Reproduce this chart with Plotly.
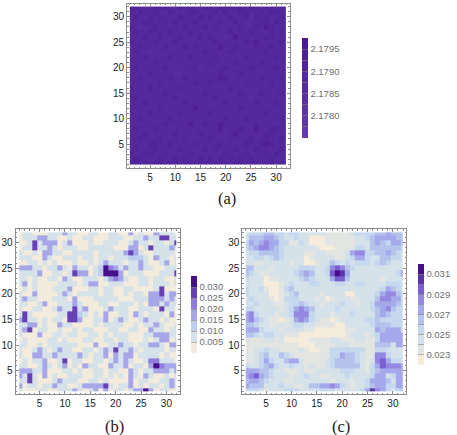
"""Three 32x32 density maps (a), (b), (c) with stepped colour bars."""

import plotly.graph_objects as go

WIDTH, HEIGHT = 457, 435

# values are listed top row (y=32) first, columns x=1..32
# panel (a): value = 2.178 + v * 1e-4
a_rows = [
    [11, 11, 9, 9, 9, 11, 11, 11, 9, 9, 11, 9, 11, 9, 9, 11, 11, 9, 11, 11, 11, 11, 11, 9, 11, 11, 9, 11, 11, 9, 11, 11],
    [11, 9, 11, 9, 9, 11, 9, 9, 11, 9, 9, 9, 11, 11, 9, 9, 9, 11, 9, 11, 9, 9, 11, 11, 9, 9, 11, 9, 11, 11, 9, 9],
    [9, 11, 9, 9, 11, 9, 11, 9, 9, 9, 11, 9, 9, 9, 11, 9, 11, 9, 9, 9, 11, 9, 9, 11, 7, 11, 9, 11, 9, 9, 11, 9],
    [9, 9, 9, 11, 11, 9, 9, 11, 9, 11, 9, 9, 9, 11, 9, 9, 9, 9, 11, 9, 9, 11, 9, 7, 9, 9, 11, 11, 9, 11, 9, 11],
    [11, 9, 7, 9, 9, 11, 9, 9, 9, 9, 9, 11, 9, 9, 9, 11, 9, 11, 9, 9, 9, 9, 11, 9, 9, 11, 9, 14, 11, 9, 9, 9],
    [9, 11, 9, 9, 11, 9, 9, 9, 11, 9, 9, 9, 11, 9, 9, 9, 9, 9, 9, 9, 11, 9, 9, 9, 11, 9, 9, 9, 11, 9, 11, 9],
    [9, 9, 9, 11, 9, 9, 11, 9, 9, 9, 11, 9, 9, 9, 11, 9, 11, 9, 9, 7, 9, 14, 9, 9, 9, 9, 9, 11, 11, 9, 9, 11],
    [11, 9, 9, 9, 9, 11, 9, 9, 9, 11, 9, 9, 9, 9, 9, 9, 9, 11, 9, 9, 9, 9, 9, 11, 9, 14, 9, 9, 9, 9, 11, 9],
    [9, 9, 11, 9, 9, 9, 9, 11, 9, 9, 9, 11, 9, 11, 9, 9, 9, 9, 14, 9, 9, 11, 9, 9, 9, 11, 9, 9, 11, 9, 9, 9],
    [9, 11, 9, 9, 7, 9, 9, 9, 9, 9, 9, 9, 9, 9, 9, 11, 9, 9, 9, 9, 11, 9, 9, 9, 9, 9, 9, 11, 9, 9, 9, 11],
    [9, 9, 9, 11, 9, 9, 9, 9, 11, 9, 9, 9, 11, 9, 9, 9, 9, 11, 9, 9, 9, 9, 9, 11, 9, 9, 9, 9, 9, 11, 9, 9],
    [9, 9, 9, 9, 9, 11, 9, 9, 9, 9, 9, 9, 9, 9, 9, 9, 11, 9, 9, 9, 9, 11, 9, 9, 9, 9, 11, 9, 9, 9, 9, 9],
    [9, 11, 9, 9, 9, 9, 9, 11, 9, 9, 9, 9, 9, 11, 7, 9, 9, 9, 9, 11, 9, 9, 9, 9, 11, 9, 9, 9, 9, 11, 9, 9],
    [9, 9, 9, 9, 11, 9, 9, 9, 9, 7, 7, 9, 9, 9, 9, 9, 9, 9, 11, 9, 9, 9, 11, 9, 9, 9, 9, 9, 9, 9, 9, 11],
    [9, 9, 11, 9, 9, 9, 9, 9, 11, 9, 9, 11, 9, 9, 9, 9, 9, 9, 14, 11, 9, 9, 9, 9, 9, 9, 11, 9, 9, 9, 11, 9],
    [9, 9, 9, 9, 9, 9, 11, 9, 9, 9, 9, 9, 9, 11, 9, 9, 11, 9, 9, 9, 9, 9, 9, 11, 9, 9, 9, 9, 11, 9, 9, 9],
    [11, 9, 9, 9, 11, 9, 9, 9, 9, 9, 11, 9, 9, 9, 9, 9, 9, 9, 9, 9, 11, 9, 9, 9, 9, 9, 9, 9, 9, 9, 9, 9],
    [9, 9, 9, 9, 9, 9, 9, 11, 9, 9, 9, 9, 9, 9, 9, 11, 9, 9, 9, 9, 9, 9, 11, 9, 9, 9, 11, 9, 9, 9, 11, 9],
    [9, 11, 9, 9, 9, 9, 9, 9, 9, 11, 9, 9, 9, 9, 9, 9, 9, 11, 9, 9, 9, 9, 9, 9, 7, 9, 9, 9, 9, 9, 9, 11],
    [9, 9, 9, 11, 9, 9, 9, 9, 9, 9, 9, 11, 9, 9, 9, 9, 9, 9, 9, 11, 9, 9, 9, 9, 9, 11, 9, 9, 9, 11, 9, 9],
    [11, 9, 9, 9, 9, 9, 11, 9, 9, 9, 9, 9, 9, 14, 9, 9, 9, 9, 9, 9, 9, 9, 11, 9, 9, 9, 9, 9, 9, 9, 9, 9],
    [9, 9, 9, 9, 11, 9, 9, 9, 9, 9, 11, 9, 9, 9, 9, 9, 11, 9, 9, 9, 9, 9, 9, 9, 9, 9, 9, 11, 9, 9, 9, 11],
    [9, 9, 11, 9, 9, 9, 9, 9, 11, 9, 9, 9, 9, 9, 9, 9, 9, 9, 9, 11, 9, 9, 9, 11, 9, 9, 9, 9, 9, 9, 11, 9],
    [9, 9, 9, 9, 9, 9, 9, 11, 9, 9, 9, 9, 14, 9, 9, 11, 9, 9, 14, 9, 9, 9, 9, 9, 9, 11, 9, 9, 9, 9, 9, 9],
    [9, 11, 9, 9, 9, 11, 9, 9, 9, 9, 9, 9, 9, 9, 9, 9, 9, 9, 14, 9, 9, 9, 11, 9, 9, 14, 9, 9, 11, 11, 9, 9],
    [9, 9, 9, 11, 9, 9, 9, 9, 9, 11, 9, 9, 9, 9, 11, 9, 9, 9, 9, 7, 9, 14, 9, 9, 9, 9, 9, 11, 11, 9, 9, 11],
    [9, 9, 11, 9, 9, 9, 11, 9, 9, 9, 9, 11, 9, 9, 9, 9, 11, 9, 9, 9, 11, 9, 9, 9, 11, 9, 9, 11, 9, 9, 11, 9],
    [9, 9, 9, 9, 11, 11, 9, 9, 11, 9, 9, 9, 9, 11, 9, 9, 9, 9, 11, 9, 9, 9, 9, 11, 9, 9, 11, 14, 11, 9, 9, 9],
    [9, 11, 9, 9, 9, 11, 9, 9, 9, 9, 11, 9, 9, 9, 9, 11, 9, 11, 9, 9, 9, 11, 9, 9, 9, 11, 9, 9, 9, 9, 11, 9],
    [11, 9, 9, 11, 11, 9, 9, 11, 9, 9, 9, 9, 11, 9, 9, 9, 9, 9, 9, 11, 9, 9, 9, 11, 9, 9, 9, 11, 9, 11, 9, 9],
    [9, 11, 11, 9, 9, 9, 11, 9, 9, 11, 9, 11, 9, 9, 11, 9, 11, 9, 11, 9, 11, 9, 11, 9, 11, 9, 9, 9, 11, 9, 9, 11],
    [11, 11, 9, 11, 9, 11, 11, 9, 11, 11, 9, 11, 11, 9, 11, 11, 9, 11, 11, 11, 9, 11, 11, 9, 11, 11, 9, 11, 11, 9, 11, 11],
]

# panel (b): value = v * 1e-3
b_rows = [
    [2, 7, 7, 2, 2, 2, 7, 7, 7, 17, 7, 7, 2, 2, 7, 7, 2, 2, 7, 7, 2, 2, 17, 2, 7, 2, 2, 17, 7, 7, 7, 2],
    [2, 7, 7, 7, 17, 17, 7, 7, 2, 2, 7, 2, 2, 7, 7, 2, 2, 2, 7, 7, 7, 2, 2, 7, 7, 17, 7, 7, 27, 27, 7, 7],
    [2, 2, 7, 27, 7, 17, 17, 17, 2, 7, 17, 2, 2, 2, 7, 2, 2, 7, 7, 7, 2, 2, 7, 17, 7, 7, 2, 7, 7, 2, 7, 27],
    [2, 7, 7, 27, 7, 7, 17, 7, 2, 7, 7, 7, 2, 2, 7, 7, 7, 7, 7, 2, 2, 2, 17, 17, 2, 7, 27, 7, 7, 7, 17, 7],
    [7, 2, 2, 7, 2, 17, 17, 7, 7, 2, 2, 7, 7, 7, 7, 2, 7, 7, 7, 7, 7, 17, 27, 17, 7, 2, 2, 7, 7, 7, 7, 2],
    [7, 7, 7, 2, 2, 17, 7, 2, 2, 7, 7, 7, 2, 7, 7, 2, 7, 7, 2, 7, 7, 7, 12, 12, 12, 7, 2, 17, 7, 7, 2, 7],
    [2, 2, 7, 7, 2, 7, 2, 7, 2, 2, 2, 7, 2, 2, 7, 2, 7, 17, 7, 7, 7, 2, 7, 7, 17, 7, 2, 2, 7, 17, 2, 7],
    [17, 17, 17, 7, 7, 2, 7, 7, 17, 7, 2, 17, 7, 7, 2, 7, 12, 32, 22, 17, 7, 17, 7, 7, 17, 7, 7, 2, 2, 7, 7, 7],
    [7, 7, 7, 7, 17, 2, 2, 7, 7, 2, 7, 27, 17, 17, 2, 7, 12, 32, 32, 32, 17, 2, 7, 7, 7, 2, 2, 2, 7, 7, 7, 27],
    [7, 7, 2, 7, 2, 2, 7, 7, 2, 17, 7, 2, 2, 7, 7, 7, 2, 7, 17, 22, 17, 7, 2, 2, 7, 7, 2, 7, 7, 2, 2, 7],
    [7, 17, 2, 7, 2, 2, 2, 2, 7, 7, 7, 7, 2, 7, 17, 17, 2, 2, 7, 7, 7, 2, 2, 2, 7, 7, 2, 7, 7, 7, 2, 7],
    [2, 7, 2, 7, 2, 2, 2, 7, 7, 7, 17, 2, 2, 2, 7, 7, 2, 7, 7, 2, 2, 7, 7, 2, 2, 2, 2, 7, 27, 2, 2, 2],
    [7, 2, 2, 17, 2, 2, 2, 2, 7, 17, 7, 2, 7, 7, 7, 7, 2, 7, 7, 2, 2, 7, 2, 7, 7, 2, 17, 17, 27, 7, 17, 17],
    [7, 17, 7, 7, 2, 2, 2, 7, 7, 7, 2, 17, 2, 2, 2, 7, 7, 7, 7, 7, 2, 2, 2, 7, 7, 7, 17, 17, 17, 7, 17, 7],
    [7, 7, 2, 2, 7, 17, 2, 2, 7, 7, 7, 17, 7, 2, 2, 2, 7, 7, 2, 2, 7, 7, 7, 2, 7, 2, 17, 17, 7, 17, 7, 7],
    [7, 2, 2, 7, 7, 2, 2, 7, 17, 7, 7, 27, 7, 17, 2, 2, 2, 7, 17, 7, 7, 7, 2, 2, 7, 7, 7, 2, 27, 7, 7, 2],
    [7, 27, 7, 2, 2, 2, 2, 2, 7, 7, 27, 27, 12, 7, 2, 7, 2, 17, 2, 2, 7, 7, 2, 17, 7, 2, 7, 7, 7, 2, 17, 2],
    [17, 27, 7, 7, 2, 7, 2, 7, 7, 2, 27, 27, 17, 2, 2, 7, 7, 17, 2, 7, 17, 7, 2, 2, 7, 17, 7, 7, 2, 7, 2, 2],
    [7, 7, 17, 17, 2, 7, 2, 2, 17, 7, 7, 2, 2, 2, 2, 7, 2, 7, 7, 7, 7, 2, 2, 7, 2, 7, 7, 17, 7, 2, 2, 7],
    [7, 17, 27, 2, 7, 7, 2, 2, 7, 2, 2, 7, 2, 7, 7, 2, 2, 2, 7, 7, 2, 2, 7, 7, 2, 2, 17, 7, 7, 2, 7, 7],
    [7, 2, 2, 2, 17, 2, 2, 7, 7, 2, 7, 7, 2, 2, 7, 7, 2, 7, 2, 7, 7, 7, 2, 2, 2, 7, 7, 17, 17, 17, 7, 7],
    [2, 7, 2, 2, 2, 2, 7, 7, 2, 7, 2, 2, 2, 7, 7, 2, 2, 7, 7, 2, 7, 7, 2, 2, 2, 7, 2, 7, 17, 17, 2, 7],
    [7, 7, 2, 2, 7, 2, 7, 7, 7, 7, 7, 7, 2, 2, 2, 17, 2, 2, 7, 7, 17, 7, 7, 2, 7, 7, 17, 17, 7, 2, 17, 17],
    [7, 2, 2, 7, 17, 7, 2, 7, 17, 7, 7, 2, 2, 7, 7, 2, 7, 17, 7, 27, 7, 7, 17, 7, 2, 7, 7, 7, 7, 2, 7, 7],
    [7, 2, 2, 17, 17, 7, 7, 17, 7, 7, 7, 7, 17, 7, 2, 7, 7, 17, 2, 17, 7, 17, 17, 2, 7, 7, 7, 7, 2, 7, 2, 2],
    [2, 7, 2, 7, 7, 17, 2, 2, 7, 27, 2, 7, 7, 2, 2, 7, 7, 2, 7, 17, 7, 17, 7, 2, 2, 7, 22, 22, 7, 7, 7, 2],
    [7, 7, 2, 2, 7, 17, 7, 2, 7, 17, 2, 7, 2, 17, 7, 7, 2, 2, 17, 7, 7, 17, 2, 7, 7, 2, 17, 32, 22, 17, 17, 17],
    [17, 17, 17, 7, 7, 17, 2, 2, 2, 7, 7, 2, 7, 2, 2, 7, 7, 2, 7, 7, 2, 2, 17, 7, 2, 7, 7, 17, 17, 17, 7, 17],
    [17, 7, 27, 7, 2, 17, 2, 7, 2, 2, 7, 7, 7, 2, 2, 7, 7, 2, 7, 2, 7, 2, 17, 7, 2, 17, 7, 2, 2, 7, 2, 7],
    [7, 7, 27, 7, 2, 2, 2, 7, 17, 7, 7, 7, 2, 2, 7, 7, 2, 7, 2, 2, 2, 2, 17, 2, 7, 7, 2, 2, 7, 7, 17, 7],
    [17, 2, 7, 7, 2, 7, 7, 17, 7, 7, 2, 2, 7, 17, 17, 17, 17, 27, 7, 2, 7, 7, 17, 2, 7, 2, 7, 7, 2, 7, 17, 7],
    [7, 2, 2, 2, 7, 7, 2, 2, 7, 7, 7, 17, 7, 2, 7, 17, 2, 17, 2, 7, 7, 2, 7, 17, 17, 32, 17, 2, 7, 7, 2, 2],
]

# panel (c): value = v * 1e-4
c_rows = [
    [245, 255, 255, 255, 265, 265, 255, 255, 245, 255, 255, 245, 245, 245, 245, 245, 235, 235, 235, 235, 235, 245, 255, 255, 255, 255, 265, 265, 275, 265, 265, 265],
    [245, 265, 265, 265, 275, 275, 265, 255, 245, 245, 255, 245, 245, 225, 225, 225, 235, 235, 235, 235, 235, 235, 245, 245, 255, 265, 275, 275, 275, 275, 265, 265],
    [255, 275, 265, 275, 285, 275, 275, 255, 255, 235, 235, 255, 245, 225, 225, 225, 235, 235, 235, 235, 235, 235, 245, 245, 245, 265, 275, 265, 255, 275, 275, 265],
    [255, 265, 275, 285, 285, 275, 265, 255, 245, 245, 245, 245, 245, 245, 235, 225, 225, 225, 235, 235, 235, 235, 255, 255, 245, 265, 265, 265, 265, 265, 265, 255],
    [245, 255, 255, 265, 265, 265, 265, 255, 245, 245, 245, 245, 235, 235, 245, 245, 235, 235, 235, 235, 245, 275, 285, 285, 255, 255, 265, 265, 275, 265, 255, 245],
    [245, 245, 255, 255, 245, 255, 265, 255, 245, 245, 245, 245, 225, 235, 245, 245, 245, 245, 235, 235, 245, 255, 275, 275, 255, 245, 245, 265, 265, 255, 255, 245],
    [245, 245, 235, 235, 245, 245, 245, 245, 245, 235, 245, 245, 225, 225, 235, 245, 245, 265, 255, 245, 255, 245, 255, 255, 255, 245, 255, 265, 255, 245, 245, 245],
    [265, 265, 245, 245, 245, 235, 245, 245, 245, 245, 245, 255, 255, 255, 245, 245, 255, 285, 295, 285, 265, 255, 245, 245, 245, 245, 245, 245, 245, 245, 245, 245],
    [265, 255, 245, 235, 235, 245, 245, 245, 245, 245, 255, 265, 275, 265, 245, 245, 255, 295, 315, 305, 275, 245, 245, 245, 245, 245, 245, 245, 245, 245, 255, 275],
    [255, 245, 245, 245, 225, 235, 235, 245, 245, 245, 245, 255, 265, 255, 245, 245, 245, 275, 295, 295, 265, 245, 245, 245, 245, 245, 245, 235, 245, 245, 245, 245],
    [245, 245, 245, 245, 225, 225, 225, 235, 245, 255, 245, 245, 245, 255, 255, 245, 245, 245, 255, 255, 245, 245, 255, 255, 245, 245, 245, 245, 255, 255, 255, 245],
    [255, 245, 245, 255, 235, 225, 225, 235, 255, 265, 245, 245, 245, 245, 245, 245, 245, 245, 245, 245, 245, 245, 245, 245, 245, 245, 245, 255, 275, 265, 255, 245],
    [255, 245, 245, 245, 245, 225, 225, 235, 245, 255, 265, 245, 245, 245, 245, 235, 245, 245, 245, 245, 225, 225, 245, 245, 245, 245, 255, 275, 285, 285, 265, 255],
    [245, 255, 245, 245, 245, 235, 225, 235, 255, 255, 255, 245, 245, 245, 235, 245, 225, 235, 245, 245, 245, 235, 235, 245, 245, 245, 265, 285, 285, 275, 275, 255],
    [245, 245, 255, 245, 245, 245, 235, 235, 245, 255, 255, 265, 255, 245, 245, 235, 245, 245, 245, 255, 245, 245, 235, 245, 245, 255, 275, 275, 275, 275, 265, 255],
    [255, 255, 245, 245, 245, 245, 245, 235, 245, 255, 275, 285, 275, 265, 245, 245, 245, 245, 255, 245, 245, 245, 245, 245, 245, 255, 265, 275, 285, 265, 255, 255],
    [275, 285, 255, 245, 245, 245, 235, 245, 245, 255, 285, 285, 285, 255, 245, 245, 245, 235, 245, 245, 245, 255, 245, 245, 245, 245, 265, 275, 265, 255, 255, 255],
    [275, 285, 265, 255, 245, 235, 235, 225, 235, 245, 275, 285, 275, 255, 245, 235, 235, 225, 235, 245, 245, 245, 245, 245, 255, 255, 265, 255, 255, 255, 255, 255],
    [265, 265, 255, 245, 245, 235, 235, 245, 235, 245, 255, 255, 245, 245, 235, 235, 235, 235, 225, 225, 245, 245, 245, 245, 245, 255, 265, 265, 265, 255, 255, 255],
    [275, 275, 275, 255, 245, 245, 245, 235, 245, 245, 245, 245, 235, 235, 225, 225, 225, 225, 225, 225, 235, 235, 245, 245, 245, 245, 275, 265, 275, 275, 275, 245],
    [265, 265, 255, 245, 255, 255, 245, 245, 235, 235, 235, 225, 225, 225, 225, 225, 225, 225, 225, 225, 235, 245, 245, 245, 235, 245, 255, 275, 275, 275, 275, 275],
    [245, 235, 235, 235, 245, 245, 235, 245, 225, 225, 225, 225, 225, 235, 235, 235, 235, 245, 245, 235, 235, 235, 245, 245, 235, 235, 255, 275, 275, 275, 275, 275],
    [235, 235, 235, 235, 235, 235, 235, 235, 235, 235, 235, 225, 225, 225, 235, 235, 235, 235, 245, 245, 245, 235, 235, 235, 235, 235, 265, 265, 265, 245, 275, 275],
    [235, 235, 245, 245, 255, 245, 245, 235, 235, 235, 235, 245, 235, 225, 225, 235, 235, 255, 255, 255, 255, 255, 255, 255, 235, 235, 255, 255, 245, 245, 245, 245],
    [235, 235, 245, 255, 265, 245, 245, 265, 255, 245, 235, 235, 235, 235, 235, 235, 235, 255, 255, 275, 265, 265, 255, 245, 235, 235, 285, 285, 255, 245, 245, 245],
    [235, 235, 245, 255, 275, 255, 245, 245, 265, 275, 275, 245, 235, 235, 235, 235, 245, 255, 265, 265, 265, 265, 255, 245, 235, 245, 285, 295, 275, 255, 255, 245],
    [255, 245, 245, 255, 265, 275, 255, 245, 245, 255, 245, 245, 235, 245, 235, 235, 245, 255, 265, 265, 265, 265, 265, 245, 235, 255, 275, 295, 285, 285, 285, 275],
    [275, 275, 275, 265, 265, 255, 245, 245, 235, 235, 235, 245, 235, 235, 245, 245, 245, 245, 245, 255, 255, 255, 245, 245, 235, 255, 265, 275, 275, 275, 275, 275],
    [275, 285, 295, 275, 265, 255, 245, 245, 245, 235, 245, 245, 255, 245, 245, 235, 235, 245, 245, 245, 255, 245, 245, 245, 245, 255, 275, 275, 245, 255, 275, 275],
    [265, 275, 275, 265, 255, 245, 245, 245, 235, 235, 245, 245, 245, 245, 245, 245, 245, 235, 245, 245, 245, 235, 245, 245, 255, 275, 275, 275, 265, 245, 275, 275],
    [275, 265, 265, 265, 245, 245, 245, 255, 245, 245, 235, 235, 245, 265, 265, 275, 275, 285, 275, 255, 245, 235, 245, 245, 255, 265, 275, 275, 255, 255, 275, 275],
    [255, 255, 255, 245, 235, 245, 245, 245, 255, 255, 255, 245, 245, 245, 245, 255, 255, 255, 245, 245, 245, 245, 245, 255, 275, 305, 285, 275, 255, 245, 255, 265],
]

b_ticks = [0.005, 0.010, 0.015, 0.020, 0.025, 0.030]

a_colors = ["#6439ab", "#6136a8", "#5e33a5", "#5b30a2", "#582c9f", "#55289c", "#52249a", "#4f2094", "#4b1a90"]
b_colors = ["#f3ecdd", "#d6e2e9", "#bccdee", "#a6a6e8", "#8f7cdc", "#6640b4", "#471089"]
c_colors = ["#f5ecdc", "#e3e5e3", "#d5e2ea", "#c6d8ee", "#b5c2ec", "#a5a8ea", "#9488e2", "#7a5fd0", "#5f33a8", "#47108a"]

for rows in (a_rows, b_rows, c_rows):
    assert len(rows) == 32 and all(len(r) == 32 for r in rows)

a_z = [[2.178 + v * 1e-4 for v in r] for r in a_rows[::-1]]
b_z = [[v * 1e-3 for v in r] for r in b_rows[::-1]]
c_z = [[v * 1e-4 for v in r] for r in c_rows[::-1]]

# first and last cell are cut at the outer points, as in the original
edges = [1] + [i + 0.5 for i in range(1, 32)] + [32]


def stepped(colors):
    n = len(colors)
    scale = []
    for i, c in enumerate(colors):
        scale += [[i / n, c], [(i + 1) / n, c]]
    return scale


def px_x(p):
    return p / WIDTH


def px_y(p):
    return 1 - p / HEIGHT


fig = go.Figure()

panels = [
    dict(z=a_z, box=(128.5, 293, 3.5, 168), xr=(0.45, 32.7), yr=(0.3, 32.6), bar=(305.5, 38, 138),
         cmin=2.1775, cmax=2.17975, colors=a_colors,
         tickvals=[2.1775 + i * 0.00025 for i in range(1, 9)],
         ticktext=["" if i % 2 else f"{2.1775 + i * 0.00025:.4f}" for i in range(1, 9)],
         cap="(a)", cap_xy=(230, 199)),
    dict(z=b_z, box=(15.7, 181.7, 229.3, 394), xr=(0.26, 32.62), yr=(0.45, 32.6), bar=(193.5, 276, 353),
         cmin=0.0, cmax=0.035, colors=b_colors,
         tickvals=b_ticks, ticktext=[f"{t:.3f}" for t in b_ticks],
         cap="(b)", cap_xy=(116, 426)),
    dict(z=c_z, box=(245, 410.7, 229.3, 394), xr=(0.32, 32.62), yr=(0.45, 32.6), bar=(423, 264, 365),
         cmin=0.022, cmax=0.032, colors=c_colors,
         tickvals=[0.022 + i * 0.001 for i in range(1, 10)],
         ticktext=[f"{0.022 + i * 0.001:.3f}" if i % 2 else "" for i in range(1, 10)],
         cap="(c)", cap_xy=(345, 426)),
]

layout = {}
for i, p in enumerate(panels, start=1):
    suffix = "" if i == 1 else str(i)
    fig.add_trace(go.Heatmap(
        z=p["z"], x=edges, y=edges,
        xaxis=f"x{suffix}", yaxis=f"y{suffix}",
        coloraxis=f"coloraxis{suffix}",
    ))
    l, r, t, b = p["box"]
    axis = dict(
        showgrid=False, zeroline=False, showline=True, linecolor="#8c8c8c", linewidth=1,
        mirror="allticks", ticks="inside", ticklen=3, tickwidth=1, tickcolor="#8c8c8c",
        tick0=0, dtick=5, tickfont=dict(family="Liberation Sans", size=10, color="#222222"),
        minor=dict(dtick=1, tick0=0, ticks="inside", ticklen=1.5, tickwidth=1, tickcolor="#8c8c8c", showgrid=False),
    )
    layout[f"xaxis{suffix}"] = dict(axis, domain=[px_x(l), px_x(r)], range=list(p["xr"]),
                                    anchor=f"y{suffix}")
    layout[f"yaxis{suffix}"] = dict(axis, domain=[px_y(b), px_y(t)], range=list(p["yr"]),
                                    anchor=f"x{suffix}")
    bx, bt, bb = p["bar"]
    layout[f"coloraxis{suffix}"] = dict(
        cmin=p["cmin"], cmax=p["cmax"], colorscale=stepped(p["colors"]),
        colorbar=dict(
            x=px_x(bx), xanchor="left", xpad=0,
            y=px_y(bb), yanchor="bottom", ypad=0,
            thicknessmode="pixels", thickness=6,
            lenmode="pixels", len=bb - bt,
            outlinewidth=0, borderwidth=0,
            tickmode="array", tickvals=p["tickvals"], ticktext=p["ticktext"],
            ticks="inside", ticklen=6, tickwidth=1, tickcolor="rgba(130,130,130,0.55)",
            tickfont=dict(family="Liberation Sans", size=9.5, color="#6e6e6e"),
        ),
    )
    fig.add_annotation(
        text=p["cap"], xref="paper", yref="paper",
        x=px_x(p["cap_xy"][0]), y=px_y(p["cap_xy"][1]),
        showarrow=False, xanchor="center", yanchor="middle",
        font=dict(family="Liberation Serif", size=16.5, color="#1a1a1a"),
    )

fig.update_layout(
    width=WIDTH, height=HEIGHT, autosize=False,
    margin=dict(l=0, r=0, t=0, b=0),
    paper_bgcolor="white", plot_bgcolor="white",
    showlegend=False,
    **layout,
)

# drop the browser's default page margin so the figure fills the window
fig.write_html("out.html", config={"displayModeBar": False},
               post_script="document.body.style.margin='0';")
